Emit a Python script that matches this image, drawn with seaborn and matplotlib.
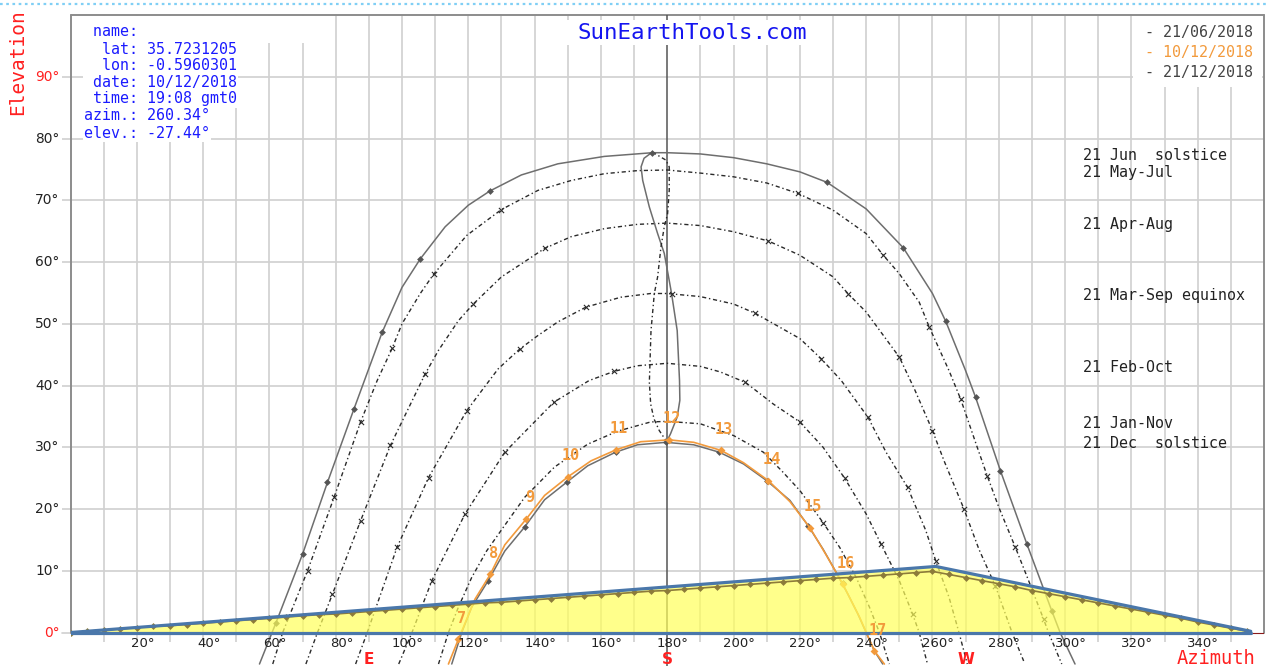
import matplotlib
matplotlib.use("Agg")
import matplotlib.pyplot as plt
import seaborn as sns
import pandas as pd
from matplotlib.patches import Rectangle
from matplotlib.lines import Line2D

# ---------------- data ----------------
# 21 Jun solstice path (solid)
jun_az = [57, 60.8, 62, 70, 77.5, 85.5, 94, 100, 105.5, 113, 120, 126.5, 136, 147, 161, 175.5, 180, 190, 200, 210,
          220, 228.2, 240, 251.2, 260, 264, 270, 273, 280.5, 288.5, 296, 298.5, 303]
jun_el = [-5.1, 0, 1.6, 12.7, 24.3, 36.2, 48.6, 55.9, 60.5, 65.7, 69.2, 71.5, 74.1, 75.9, 77.1, 77.7, 77.7, 77.5, 76.9, 75.9,
          74.6, 72.9, 68.6, 62.3, 54.9, 50.4, 42.4, 38.1, 26.2, 14.3, 3.5, 0, -5.1]
jun_hr_az = [62, 70, 77.5, 85.5, 94, 105.5, 126.5, 175.5, 228.2, 251.2, 264, 273, 280.5, 288.5, 296]
jun_hr_el = [1.6, 12.7, 24.3, 36.2, 48.6, 60.5, 71.5, 77.7, 72.9, 62.3, 50.4, 38.1, 26.2, 14.3, 3.5]

# 21 May-Jul
may_az = [61, 64, 71.5, 79.5, 87.5, 92.5, 97, 100, 105.5, 109.5, 119.5, 130, 141, 151, 161, 171, 180, 190, 200, 210,
          219.5, 230, 240, 245, 250, 256, 259, 265, 268.5, 273.5, 276.5, 280, 285, 289, 293.5, 295, 299]
may_el = [-5.1, 0, 10, 21.9, 34.1, 40.8, 46, 50, 54.9, 58, 64.3, 68.5, 71.6, 73.2, 74.3, 74.8, 74.9, 74.4, 73.8, 72.8,
          71.1, 68.4, 64.6, 61.2, 58.1, 53.5, 49.5, 42.4, 37.8, 30, 25.4, 20.3, 13.8, 8.4, 2.2, 0, -5.1]
may_hr_az = [71.5, 79.5, 87.5, 97, 109.5, 130, 219.5, 245, 259, 268.5, 276.5, 285, 293.5]
may_hr_el = [10, 21.9, 34.1, 46, 58, 68.5, 71.1, 61.2, 49.5, 37.8, 25.4, 13.8, 2.2]

# 21 Apr-Aug
apr_az = [71, 74.5, 79, 87.5, 96.5, 107, 111, 117, 121.5, 130, 136, 143, 151, 161, 171, 180, 190, 200, 210.5, 220,
          230, 234.5, 240, 250, 254.5, 260, 263.5, 269.5, 274, 279, 284, 287.5]
apr_el = [-5.1, 0, 6.2, 18.1, 30.3, 41.9, 45.7, 50.5, 53.2, 57.6, 59.7, 62.2, 64.1, 65.4, 66.1, 66.3, 65.9, 64.9, 63.4, 61.1,
          57.6, 54.9, 51.9, 44.6, 39.5, 32.7, 27.8, 20, 13.5, 7.5, 0, -4.6]
apr_hr_az = [79, 87.5, 96.5, 107, 121.5, 143, 210.5, 234.5, 250, 260, 269.5, 279]
apr_hr_el = [6.2, 18.1, 30.3, 41.9, 53.2, 62.2, 63.4, 54.9, 44.6, 32.7, 20, 7.5]

# 21 Mar-Sep equinox
mar_az = [86, 89.5, 98.5, 108, 119.5, 124.5, 129, 135.5, 141, 147, 155.5, 166, 175, 180, 190, 200, 206.5, 220, 226.5,
          232.5, 240.5, 246, 252.5, 258, 261, 265, 268, 270.5]
mar_el = [-5.1, 0, 13.8, 25.1, 35.9, 39.5, 42.7, 45.9, 48.1, 50.3, 52.7, 54.3, 54.9, 54.9, 54.4, 53.2, 51.7, 47.6, 44.3,
          40.8, 34.9, 29.2, 23.5, 16.5, 11.6, 5.7, 0, -5.1]
mar_hr_az = [98.5, 108, 119.5, 135.5, 155.5, 181.3, 206.5, 226.5, 240.5, 252.5, 261]
mar_hr_el = [13.8, 25.1, 35.9, 45.9, 52.7, 54.9, 51.7, 44.3, 34.9, 23.5, 11.6]

# 21 Feb-Oct
feb_az = [99, 103, 109, 119, 131, 145.8, 152.5, 156.4, 164, 171, 180, 190, 196, 203.6, 212, 220, 227, 233.5, 240,
          244.5, 250, 254, 256, 258.5]
feb_el = [-5.1, 0, 8.4, 19.2, 29.2, 37.3, 39.5, 40.8, 42.3, 43.2, 43.6, 43.1, 42.2, 40.5, 37, 34.1, 30, 25, 19.2,
          14.3, 8.4, 3, 0, -5.1]
feb_hr_az = [109, 119, 131, 145.8, 164, 203.6, 220, 233.5, 244.5, 254]
feb_hr_el = [8.4, 19.2, 29.2, 37.3, 42.3, 40.5, 34.1, 25, 14.3, 3]

# 21 Jan-Nov
jan_az = [111, 114, 117, 121, 125.5, 130.5, 137, 146, 156, 165, 175, 180, 190, 200, 209, 214.5, 220, 227, 232, 237,
          241, 244, 247]
jan_el = [-5.1, 0, 4.1, 8.9, 13.2, 17, 21.9, 26.8, 30.5, 32.6, 34.1, 34.2, 33.8, 31.9, 29.2, 26.2, 23, 17.8, 13.8, 8.9,
          4.1, 0, -5.1]
jan_hr_az = [227]
jan_hr_el = [17.8]

# 21 Dec solstice (solid)
dec_az = [115, 118, 121, 126, 131, 137, 143, 149.8, 156, 164.4, 171, 179.6, 188, 195.7, 203, 210, 217, 222.5, 227,
          231, 234.5, 237.5, 240, 242.5, 245]
dec_el = [-5.1, 0, 4.1, 8.4, 13.2, 17.1, 21.5, 24.4, 27, 29.2, 30.4, 30.8, 30.4, 29.2, 27.3, 24.6, 21.4, 17.3, 13.5,
          9.7, 6.2, 3, 0, -3, -5.1]
dec_hr_az = [126, 137, 149.8, 164.4, 179.6, 195.7, 210, 222.5, 233]
dec_hr_el = [8.4, 17.1, 24.4, 29.2, 30.8, 29.2, 24.6, 17.3, 8]

# 10/12/2018 (selected date)
sel_az = [114, 117, 118, 122, 126.6, 131, 137.5, 143, 150, 157, 164.6, 172, 180.6, 188, 196.2, 203, 210.5, 217, 223,
          228, 233, 238, 242.5, 245.5]
sel_el = [-5.1, -1.1, 0.2, 5.4, 9.4, 14.2, 18.4, 22.2, 25.2, 27.8, 29.6, 30.9, 31.2, 30.8, 29.5, 27.5, 24.6, 21.2, 17,
          12.5, 7.8, 2.5, -3, -5.1]
sel_hr_az = [117, 126.6, 137.5, 150, 164.6, 180.6, 196.2, 210.5, 223, 233, 242.5]
sel_hr_el = [-1.1, 9.4, 18.4, 25.2, 29.6, 31.2, 29.5, 24.6, 17, 7.8, -3]
sel_hr_lbl = ["7", "8", "9", "10", "11", "12", "13", "14", "15", "16", "17"]

# 12h analemma (solid half / dotted half)
ana1_az = [175.5, 173, 172.1, 172.6, 174.6, 177.1, 179.1, 180.6, 181.3, 183, 183.7, 183.8, 183, 181, 180]
ana1_el = [77.8, 76.8, 75.4, 73.2, 68.9, 64.6, 61.4, 57, 54.9, 48.9, 40.8, 37.6, 34.9, 32.2, 31.1]
ana2_az = [175.5, 179.6, 180.6, 180.6, 180.1, 179.1, 178.1, 177.1, 176.1, 175.1, 174.6, 175, 176, 177.6, 179.6]
ana2_el = [77.8, 76.5, 75.4, 71.6, 67.8, 65.7, 62.4, 57.6, 54.9, 48.9, 40.5, 37, 34.6, 32.7, 31.1]

# horizon profile
hz_az = [0, 261, 356]
hz_el = [0, 10.7, 0.2]
hz2_az = [0, 5, 10, 15, 20, 25, 30, 35, 40, 45, 50, 55, 60, 65, 70, 75, 80, 85, 90, 95, 100, 105, 110, 115, 120,
          125, 130, 135, 140, 145, 150, 155, 160, 165, 170, 175, 180, 185, 190, 195, 200, 205, 210, 215, 220, 225,
          230, 235, 240, 245, 250, 255, 260, 265, 270, 275, 280, 285, 290, 295, 300, 305, 310, 315, 320, 325, 330,
          335, 340, 345, 350, 355]
hz2_el = [0.0, 0.2, 0.4, 0.6, 0.8, 1.0, 1.1, 1.3, 1.5, 1.7, 1.9, 2.1, 2.3, 2.5, 2.7, 2.9, 3.0, 3.2, 3.4, 3.6, 3.8,
          4.0, 4.2, 4.4, 4.6, 4.8, 4.9, 5.1, 5.3, 5.5, 5.7, 5.9, 6.1, 6.3, 6.5, 6.7, 6.8, 7.0, 7.2, 7.4, 7.6, 7.8,
          8.0, 8.2, 8.4, 8.6, 8.8, 8.9, 9.1, 9.3, 9.5, 9.7, 9.9, 9.4, 8.9, 8.4, 7.9, 7.4, 6.8, 6.3, 5.8, 5.3, 4.8,
          4.3, 3.8, 3.3, 2.8, 2.3, 1.7, 1.2, 0.7, 0.2]

x_ticks = [20, 40, 60, 80, 100, 120, 140, 160, 180, 200, 220, 240, 260, 280, 300, 320, 340]
y_ticks = [0, 10, 20, 30, 40, 50, 60, 70, 80, 90]
compass = [(90, "E"), (180, "S"), (270, "W")]

info_lbl = ["name:", "lat:", "lon:", "date:", "time:", "azim.:", "elev.:"]
info_val = ["", "35.7231205", "-0.5960301", "10/12/2018", "19:08 gmt0", "260.34°", "-27.44°"]
legend_txt = ["21/06/2018", "10/12/2018", "21/12/2018"]
path_lbl = ["21 Jun  solstice", "21 May-Jul", "21 Apr-Aug", "21 Mar-Sep equinox", "21 Feb-Oct",
            "21 Jan-Nov", "21 Dec  solstice"]
path_lbl_y = [155, 173, 225, 295, 367, 423, 444]

# ---------------- figure ----------------
sns.set_theme(style="white")
plt.rcParams['font.family'] = ['DejaVu Sans']
plt.rcParams['axes.unicode_minus'] = False

W, H = 1269, 666
fig = plt.figure(figsize=(W / 100, H / 100), dpi=100)
fig.patch.set_facecolor("white")
X0, X1, Y0 = 70.5, 1264.0, 15.0
ax = fig.add_axes([X0 / W, 0, (X1 - X0) / W, (H - Y0) / H])
ax.set_xlim(0, 360)
ax.set_ylim(-5.42, 100)
ax.set_axis_off()


def fx(px):
    return px / W


def fy(py):
    return 1 - py / H


GRID = "#d0d0d0"
ORANGE = "#f29a3c"
GRAYL = "#6e6e6e"
DOT = "#2a2a2a"
RED = "#ff2020"
MONO = "DejaVu Sans Mono"

# grid
for a in range(10, 360, 10):
    if a != 180:
        ax.plot([a, a], [-1.6, 100], color=GRID, lw=1.2, zorder=1, solid_capstyle="butt")
for e in y_ticks[1:]:
    ax.plot([-2.6, 360], [e, e], color=GRID, lw=1.2, zorder=1, clip_on=False, solid_capstyle="butt")
ax.plot([-2.6, 0], [0, 0], color=GRID, lw=1.2, zorder=1, clip_on=False)

# frame + south line
FR = "#8c8c8c"
ax.plot([0, 0], [0, 100], color=FR, lw=1.4, zorder=2, clip_on=False)
ax.plot([0, 360], [100, 100], color=FR, lw=1.4, zorder=2, clip_on=False)
ax.plot([360, 360], [0, 100], color=FR, lw=1.4, zorder=2, clip_on=False)
ax.plot([180, 180], [-5.42, 100], color="#555555", lw=1.1, zorder=2)

# day paths
dotted = (0, (3, 2, 1, 2))
for az, el in [(may_az, may_el), (apr_az, apr_el), (mar_az, mar_el), (feb_az, feb_el), (jan_az, jan_el)]:
    sns.lineplot(x=az, y=el, sort=False, estimator=None, ax=ax, color=DOT, lw=1.0, linestyle=dotted, zorder=3)
for az, el in [(may_hr_az, may_hr_el), (apr_hr_az, apr_hr_el), (mar_hr_az, mar_hr_el), (feb_hr_az, feb_hr_el),
               (jan_hr_az, jan_hr_el)]:
    sns.scatterplot(x=az, y=el, ax=ax, marker="x", s=14, color=DOT, linewidth=0.8, zorder=4)

for az, el in [(jun_az, jun_el), (dec_az, dec_el)]:
    sns.lineplot(x=az, y=el, sort=False, estimator=None, ax=ax, color=GRAYL, lw=1.1, zorder=3)
for az, el in [(jun_hr_az, jun_hr_el), (dec_hr_az, dec_hr_el)]:
    sns.scatterplot(x=az, y=el, ax=ax, marker="D", s=12, color="#555555", linewidth=0, zorder=4)

# analemma 12h
sns.lineplot(x=ana1_az, y=ana1_el, sort=False, estimator=None, ax=ax, color=GRAYL, lw=1.1, zorder=3)
sns.lineplot(x=ana2_az, y=ana2_el, sort=False, estimator=None, ax=ax, color=DOT, lw=1.0, linestyle=dotted, zorder=3)

# selected date
sns.lineplot(x=sel_az, y=sel_el, sort=False, estimator=None, ax=ax, color=ORANGE, lw=1.2, zorder=5)
sns.scatterplot(x=sel_hr_az, y=sel_hr_el, ax=ax, marker="D", s=16, color=ORANGE, linewidth=0, zorder=6)
for az, el, lb in zip(sel_hr_az, sel_hr_el, sel_hr_lbl):
    ax.annotate(lb, (az, el), xytext=(3, 21), textcoords="offset pixels", ha="center", va="center",
                color=ORANGE, fontsize=11, fontweight="bold", family=MONO, zorder=9)

# horizon
ax.fill_between(hz_az, 0, hz_el, color="#ffff5a", alpha=0.7, lw=0, zorder=6)
sns.lineplot(x=hz2_az, y=hz2_el, sort=False, estimator=None, ax=ax, color="#8c7b3a", lw=1.2, zorder=7,
             marker="D", markersize=3.5, markeredgewidth=0)
ax.plot([0, 360], [-0.15, -0.15], color="#8b1a1a", lw=0.8, zorder=7)
sns.lineplot(x=hz_az, y=hz_el, sort=False, estimator=None, ax=ax, color="#4a77aa", lw=2.3, zorder=8)
sns.lineplot(x=[hz_az[0], hz_az[-1]], y=[0, 0], sort=False, estimator=None, ax=ax, color="#4a77aa", lw=2.3, zorder=8)

# axis tick labels
for e in y_ticks:
    ax.text(-3.4, e, f"{e}°", ha="right", va="center", fontsize=9.9,
            color=RED if e in (0, 90) else "#222222", clip_on=False)
for a in x_ticks:
    ax.text(a + 1.7, -1.8, f"{a}°", ha="center", va="center", fontsize=9.5, color="#222222", zorder=9)
for a, c in compass:
    ax.text(a, -4.35, c, ha="center", va="center", fontsize=11, fontweight="bold", color=RED, zorder=9)

fig.text(fx(1216), fy(658), "Azimuth", ha="center", va="center", fontsize=13.5, family=MONO, color=RED)
fig.text(fx(18), fy(62), "Elevation", ha="center", va="center", rotation=90, fontsize=14, family=MONO, color=RED)

# white backgrounds
ax.add_patch(Rectangle((fx(1133), fy(87)), fx(1262) - fx(1133), fy(16) - fy(87), transform=fig.transFigure,
                       facecolor="white", edgecolor="none", zorder=10, clip_on=False))
ax.add_patch(Rectangle((fx(562), fy(45)), fx(812) - fx(562), fy(20) - fy(45), transform=fig.transFigure,
                       facecolor="white", edgecolor="none", zorder=10, clip_on=False))
ax.add_patch(Rectangle((fx(72), fy(43)), fx(320) - fx(72), fy(16) - fy(43), transform=fig.transFigure,
                       facecolor="white", edgecolor="none", zorder=10, clip_on=False))

# title
fig.text(fx(692), fy(33), "SunEarthTools.com", ha="center", va="center", fontsize=16.2, family=MONO,
         color="#1414f0", zorder=12)

# info block
info_y = [32, 49, 66, 82, 99, 116, 133]
for lb, vl, yy in zip(info_lbl, info_val, info_y):
    s = lb.rjust(6) + " " + vl
    fig.text(fx(84), fy(yy), s, ha="left", va="center", fontsize=10.8, family=MONO, color="#1a1aff",
             zorder=12, bbox=dict(facecolor="white", edgecolor="none", pad=1.0))

# legend
leg_col = ["#444444", ORANGE, "#444444"]
for t, c, yy in zip(legend_txt, leg_col, [32, 52, 73]):
    fig.text(fx(1145), fy(yy), "- " + t, ha="left", va="center", fontsize=10.8, family=MONO, color=c, zorder=12)

# path labels
for t, yy in zip(path_lbl, path_lbl_y):
    fig.text(fx(1083), fy(yy), t, ha="left", va="center", fontsize=10.8, family=MONO, color="#222222", zorder=12)

# top dotted border
fig.add_artist(Line2D([0, 1], [fy(4), fy(4)], transform=fig.transFigure, color="#80cff5", lw=1.6,
                      linestyle=(0, (1.2, 1.6))))

fig.savefig("out.png", dpi=100, facecolor="white")
